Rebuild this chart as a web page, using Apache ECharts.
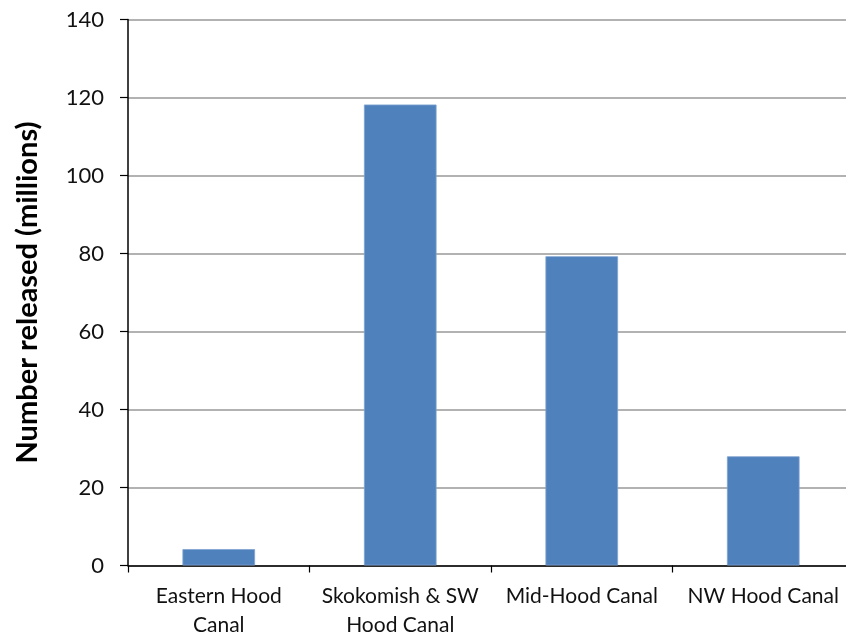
<!DOCTYPE html>
<html><head><meta charset="utf-8">
<script src="https://cdn.jsdelivr.net/npm/echarts@6/dist/echarts.min.js"></script>
<style>html,body{margin:0;padding:0;background:#fff}#c{width:846px;height:637px}</style>
</head><body><div id="c"></div>
<script>
const categories = ["Eastern Hood\nCanal", "Skokomish & SW\nHood Canal", "Mid-Hood Canal", "NW Hood Canal"];
const released = [4.2, 118.2, 79.3, 28.0];
const yTicks = [0, 20, 40, 60, 80, 100, 120, 140];

const chart = echarts.init(document.getElementById('c'));
const font = 'Lato, "Open Sans", sans-serif';
chart.setOption({
  animation: false,
  grid: { left: 128, top: 19.5, width: 726, height: 546, containLabel: false, outerBoundsMode: 'none' },
  xAxis: {
    type: 'category', data: categories, boundaryGap: true,
    axisLine: { lineStyle: { color: '#000', width: 1.5 } },
    axisTick: { show: true, length: 7, alignWithLabel: false, lineStyle: { color: '#000', width: 1.2 } },
    axisLabel: { fontFamily: font, fontSize: 21, color: '#111', margin: 16.5, lineHeight: 29, interval: 0 }
  },
  yAxis: {
    type: 'value', min: yTicks[0], max: yTicks[yTicks.length - 1], interval: 20,
    name: 'Number released (millions)', nameLocation: 'middle', nameGap: 86, nameRotate: 90,
    nameTextStyle: { fontFamily: font, fontSize: 29, fontWeight: 'bold', color: '#000' },
    axisLine: { show: true, lineStyle: { color: '#000', width: 1.5 } },
    axisTick: { show: true, length: 8, lineStyle: { color: '#000', width: 1.2 } },
    axisLabel: { fontFamily: font, fontSize: 22, color: '#111', margin: 24 },
    splitLine: { show: true, lineStyle: { color: '#999', width: 1.5 } }
  },
  series: [{
    type: 'bar', data: released, barWidth: '40%',
    itemStyle: { color: '#4F81BD', borderColor: '#7FA3D1', borderWidth: 0.8 }
  }]
});
</script></body></html>
